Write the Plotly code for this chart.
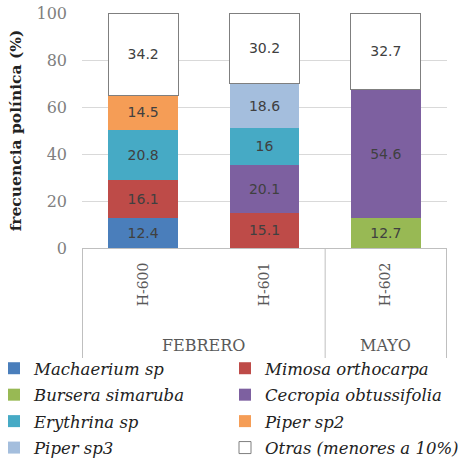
import plotly.graph_objects as go

categories = ["H-600", "H-601", "H-602"]
groups = ["FEBRERO", "FEBRERO", "MAYO"]
species = ["Machaerium sp", "Mimosa orthocarpa", "Bursera simaruba", "Cecropia obtussifolia",
           "Erythrina sp", "Piper sp2", "Piper sp3", "Otras (menores a 10%)"]
machaerium = [12.4, None, None]
mimosa = [16.1, 15.1, None]
bursera = [None, None, 12.7]
cecropia = [None, 20.1, 54.6]
erythrina = [20.8, 16, None]
piper2 = [14.5, None, None]
piper3 = [None, 18.6, None]
otras = [34.2, 30.2, 32.7]
y_ticks = [0, 20, 40, 60, 80, 100]

series = [machaerium, mimosa, bursera, cecropia, erythrina, piper2, piper3, otras]
colors = ["#4A7EBB", "#BE4B48", "#98B954", "#7D60A0", "#46AAC5", "#F59D56", "#A4BEDD", "#FFFFFF"]

W, H = 458, 465
ml, mr, mt, mb = 82, 11, 13, 217
pw = W - ml - mr
ph = H - mt - mb

fig = go.Figure()
for i, (name, vals, col) in enumerate(zip(species, series, colors)):
    is_white = col == "#FFFFFF"
    fig.add_trace(go.Bar(
        x=categories, y=vals, name="<i>" + name + "</i>",
        legend="legend" if i % 2 == 0 else "legend2",
        legendgroup="g%d" % i,
        marker=dict(color=col, line=dict(color="#7f7f7f" if is_white else col, width=1 if is_white else 0)),
        text=[("" if v is None else f"{v:g}") for v in vals],
        textposition="inside", insidetextanchor="middle", textangle=0,
        constraintext="none",
        textfont=dict(family="DejaVu Sans", size=14, color="#404040"),
        width=0.575,
    ))

leg_common = dict(orientation="v", yanchor="top", traceorder="grouped", tracegroupgap=2,
                  font=dict(family="DejaVu Serif", size=16.5, color="#222222"),
                  itemwidth=30, bgcolor="rgba(0,0,0,0)", xanchor="left")
legend_top = -(351 - 248) / ph
fig.update_layout(
    width=W, height=H, barmode="stack", barnorm="percent",
    margin=dict(l=ml, r=mr, t=mt, b=mb, autoexpand=False),
    plot_bgcolor="white", paper_bgcolor="white",
    showlegend=True,
    legend=dict(x=(-6 - ml) / pw, y=legend_top, **leg_common),
    legend2=dict(x=(225 - ml) / pw, y=legend_top, **leg_common),
    font=dict(family="DejaVu Serif", color="#595959"),
)
fig.update_yaxes(range=[0, 100], tickvals=y_ticks, showgrid=True, gridcolor="#d9d9d9",
                 zeroline=False, showline=False, ticks="", automargin=False,
                 tickfont=dict(family="DejaVu Serif", size=16, color="#7f7f7f"),
                 ticklabelstandoff=14,
                 title=dict(text="<b>frecuencia polínica (%)</b>",
                            font=dict(family="DejaVu Serif", size=15.5, color="#222222"),
                            standoff=11))
fig.update_xaxes(showline=True, linecolor="#bfbfbf", linewidth=1, tickangle=-90,
                 ticks="", ticklabelstandoff=8, automargin=False,
                 tickfont=dict(family="DejaVu Serif", size=14, color="#595959"))

# group separators and labels
bottom = -(358 - 248) / ph
for xv in [-0.5, 1.5, 2.5]:
    fig.add_shape(type="line", xref="x", yref="paper", x0=xv, x1=xv, y0=0, y1=bottom,
                  line=dict(color="#bfbfbf", width=1))
group_names = []
for g in groups:
    if g not in group_names:
        group_names.append(g)
for g in group_names:
    idx = [i for i, gg in enumerate(groups) if gg == g]
    fig.add_annotation(x=sum(idx) / len(idx), y=-(345 - 248) / ph, xref="x", yref="paper",
                       text=g, showarrow=False, yanchor="middle",
                       font=dict(family="DejaVu Serif", size=16, color="#595959"))

fig.write_html("out.html", config={"displayModeBar": False},
               post_script="document.body.style.margin='0';")
